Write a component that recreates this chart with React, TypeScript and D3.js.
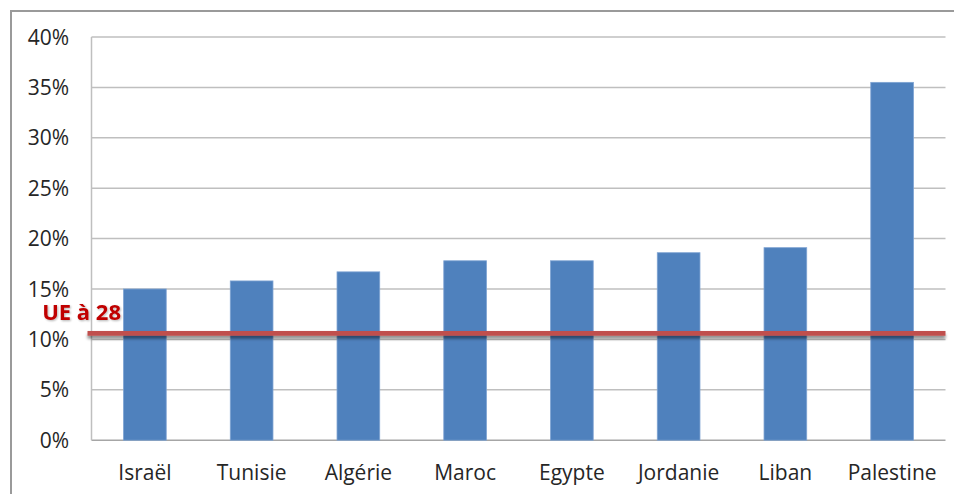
import React from "react";
import * as d3 from "d3";

const categories = ["Israël", "Tunisie", "Algérie", "Maroc", "Egypte", "Jordanie", "Liban", "Palestine"];
const shares = [15.0, 15.8, 16.7, 17.8, 17.8, 18.6, 19.1, 35.5];
const yTicks = [0, 5, 10, 15, 20, 25, 30, 35, 40];
const euLevel = 10.6;
const euLabel = "UE à 28";

const W = 954;
const H = 494;
const plot = { left: 91.5, right: 945.5, top: 37, bottom: 440.2 };
const font = "'Open Sans', 'DejaVu Sans', sans-serif";

export default function App() {
  const x = d3
    .scaleBand<string>()
    .domain(categories)
    .range([plot.left, plot.right])
    .paddingInner(0.6)
    .paddingOuter(0.3);
  const y = d3.scaleLinear().domain([0, 40]).range([plot.bottom, plot.top]);
  const fmt = (v: number) => `${v}%`;
  const lineW = 4.8;

  return (
    <svg
      width={W}
      height={H}
      style={{ position: "absolute", left: 0, top: 0, background: "#fff" }}
    >
      <defs>
        <filter id="lineShadow" filterUnits="userSpaceOnUse" x={0} y={300} width={W} height={80}>
          <feGaussianBlur in="SourceAlpha" stdDeviation="1.5" />
          <feOffset dx="0" dy="3" result="b" />
          <feComponentTransfer>
            <feFuncA type="linear" slope="0.45" />
          </feComponentTransfer>
          <feMerge>
            <feMergeNode />
            <feMergeNode in="SourceGraphic" />
          </feMerge>
        </filter>
        <filter id="textShadow" x="-10%" y="-30%" width="120%" height="160%">
          <feGaussianBlur in="SourceAlpha" stdDeviation="0.8" />
          <feOffset dx="1" dy="1" result="b" />
          <feComponentTransfer>
            <feFuncA type="linear" slope="0.3" />
          </feComponentTransfer>
          <feMerge>
            <feMergeNode />
            <feMergeNode in="SourceGraphic" />
          </feMerge>
        </filter>
      </defs>

      {/* chart frame */}
      <path d={`M11,${H} L11,11 L${W},11`} fill="none" stroke="#9a9a9a" strokeWidth={2} />

      {/* gridlines */}
      {yTicks.map((t) => (
        <line
          key={t}
          x1={plot.left}
          x2={plot.right}
          y1={y(t)}
          y2={y(t)}
          stroke={t === 0 ? "#a6a6a6" : "#bfbfbf"}
          strokeWidth={1.5}
        />
      ))}
      <line x1={plot.left} x2={plot.left} y1={plot.top} y2={plot.bottom} stroke="#bfbfbf" strokeWidth={1.5} />

      {/* y tick labels */}
      {yTicks.map((t) => (
        <text
          key={t}
          x={69}
          y={y(t)}
          dy="0.36em"
          textAnchor="end"
          fontFamily={font}
          fontSize={21}
          fill="#262626"
        >
          {fmt(t)}
        </text>
      ))}

      {/* bars */}
      {categories.map((c, i) => (
        <rect
          key={c}
          x={x(c)}
          y={y(shares[i])}
          width={x.bandwidth()}
          height={y(0) - y(shares[i])}
          fill="#4f81bd"
          stroke="#7ea3d3"
          strokeWidth={0.8}
        />
      ))}

      {/* category labels */}
      {categories.map((c) => (
        <text
          key={c}
          x={(x(c) as number) + x.bandwidth() / 2}
          y={472}
          dy="0.36em"
          textAnchor="middle"
          fontFamily={font}
          fontSize={21}
          fill="#262626"
        >
          {c}
        </text>
      ))}

      {/* EU reference line */}
      <rect
        x={plot.left - 4}
        y={y(euLevel) - lineW / 2}
        width={plot.right - plot.left + 4}
        height={lineW}
        fill="#c0504d"
        filter="url(#lineShadow)"
      />
      <text
        x={121}
        y={320}
        textAnchor="end"
        fontFamily={font}
        fontWeight="bold"
        fontSize={22}
        fill="#c00000"
        filter="url(#textShadow)"
      >
        {euLabel}
      </text>
    </svg>
  );
}
